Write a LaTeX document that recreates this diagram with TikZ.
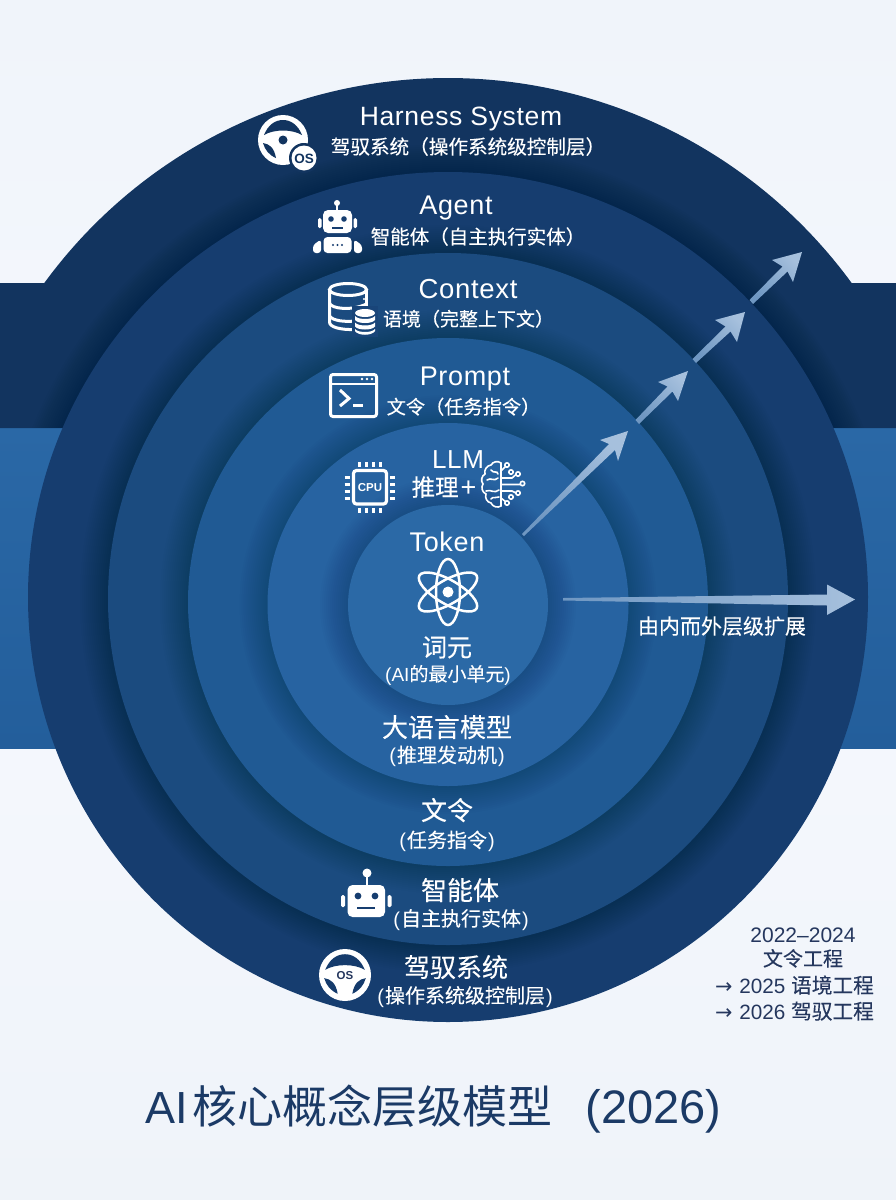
\documentclass[tikz,border=0pt]{standalone}
\usepackage{fontspec}
\setmainfont{Liberation Sans}
\newfontfamily\cjk[FakeBold=0.2]{Noto Sans CJK SC}
\newfontfamily\plaincjk{Noto Sans CJK SC}
\newfontfamily\spaced[LetterSpace=2.5]{Liberation Sans}
\newfontfamily\dv{DejaVu Sans}
\newcommand{\fsz}[1]{\fontsize{#1}{#1}\selectfont}
\definecolor{capc}{HTML}{12345F}
\definecolor{diskA}{HTML}{163D6F}
\definecolor{diskB}{HTML}{1B4B7F}
\definecolor{diskC}{HTML}{205A94}
\definecolor{diskD}{HTML}{2763A1}
\definecolor{diskE}{HTML}{2B69A6}
\definecolor{bandt}{HTML}{2A68A6}
\definecolor{bandb}{HTML}{235E9B}
\definecolor{inkc}{HTML}{25375E}
\definecolor{titlec}{HTML}{1B3A66}
\definecolor{bgt}{HTML}{F0F4FA}
\definecolor{bgm}{HTML}{F6F9FE}
\definecolor{bgb}{HTML}{EFF3F9}
\definecolor{arrowa}{HTML}{6F97C2}
\definecolor{arrowb}{HTML}{A6C0DD}
\tikzset{
  lbl/.style={text=white,inner sep=0pt,anchor=base,align=center},
  ink/.style={text=inkc,inner sep=0pt,anchor=base},
  ico/.style={draw=white,line width=3pt,fill=none},
}
% centre x, centre y, x radius, y radius, colour
\newcommand{\softdisk}[5]{%
  \foreach \i in {1,...,14}{\fill[black,opacity=.01] (#1,#2) ellipse [x radius=#3pt+2pt*\i,y radius=#4pt+2pt*\i];}
  \fill[#5] (#1,#2) ellipse [x radius=#3pt,y radius=#4pt];
}
% start1, start2, neck1, barb1, tip, barb2, neck2, shading angle
\newcommand{\taper}[8]{%
  \shade[top color=arrowb,bottom color=arrowa,shading angle=#8] #1 -- #3 -- #4 -- #5 -- #6 -- #7 -- #2 -- cycle;
}
% steering wheel: centre x, centre y, radius, hole colour
\newcommand{\wheelicon}[4]{%
  \begin{scope}[shift={(#1,#2)},x=#3pt/25,y=-#3pt/25]
  \fill[white] (0,0) circle[radius=#3pt];
  \fill[#4] (-19,-5) .. controls (-15,-15) and (-8,-20) .. (0,-20) .. controls (8,-20) and (15,-15) .. (19,-5)
     .. controls (9,-11) and (-9,-11) .. (-19,-5) -- cycle;
  \fill[#4] (-20,3) .. controls (-14,4) and (-9,7) .. (-7,18) .. controls (-14,15) and (-18,10) .. (-20,3) -- cycle;
  \fill[#4] (20,3) .. controls (14,4) and (9,7) .. (7,18) .. controls (14,15) and (18,10) .. (20,3) -- cycle;
  \end{scope}
}
\begin{document}
\begin{tikzpicture}[x=1pt,y=-1pt]
\useasboundingbox (0,0) rectangle (896,1200);
% background
\shade[top color=bgt,bottom color=bgm] (0,0) rectangle (896,600.5);
\shade[top color=bgm,bottom color=bgb] (0,600) rectangle (896,1200);
% light band
\shade[top color=bandt,bottom color=bandb] (0,428) rectangle (896,748);
% dark cap and upper band
\def\capshape{(44.3,283) arc[start angle=143.84,end angle=36.16,radius=500pt] -- (896,283) -- (896,428) -- (0,428) -- (0,283) -- cycle}
\fill[capc] \capshape;
\begin{scope}
  \clip \capshape;
  \foreach \i in {1,...,14}{\fill[black,opacity=.01] (448,597) ellipse [x radius=420pt+2pt*\i,y radius=425pt+2pt*\i];}
\end{scope}
\fill[diskA] (448,597) ellipse [x radius=420pt,y radius=425pt];
\softdisk{448}{599}{340}{346}{diskB}
\softdisk{448}{602}{260}{264}{diskC}
\softdisk{448}{604.5}{180.5}{181.5}{diskD}
\softdisk{448}{605}{100}{100}{diskE}

% arrows
\taper{(522,534)}{(524,536)}{(609,444)}{(600,440)}{(628,431)}{(618,461)}{(615,450)}{-45}
\taper{(635.5,420)}{(639,424)}{(667.5,386.5)}{(658,382)}{(688,371)}{(678,401)}{(672.5,391.5)}{-45}
\taper{(692.5,359)}{(696,363)}{(725.5,326.5)}{(715,320)}{(745,312)}{(737,342)}{(730.5,331.5)}{-45}
\taper{(749.5,300)}{(753,304)}{(782.5,266.5)}{(772,260)}{(802,252)}{(793,282)}{(787.5,271.5)}{-45}
\taper{(563,598)}{(563,600.5)}{(827,594.5)}{(827,584.5)}{(855,599.5)}{(827,615)}{(827,605.5)}{-90}

% ---- labels
\node[lbl] (harnessEn) at (461,125) {\fsz{26.5}\spaced Harness System};
\node[lbl] (harnessCn) at (468,154) {\fsz{19.6}\cjk 驾驭系统（操作系统级控制层）};
\node[lbl] (agentEn) at (456,214) {\fsz{27}\spaced Agent};
\node[lbl] (agentCn) at (478,244) {\fsz{19.5}\cjk 智能体（自主执行实体）};
\node[lbl] (contextEn) at (468,298) {\fsz{27.5}\spaced Context};
\node[lbl] (contextCn) at (468.5,326) {\fsz{19}\cjk 语境（完整上下文）};
\node[lbl] (promptEn) at (465,385) {\fsz{27}\spaced Prompt};
\node[lbl] (promptCn) at (463.5,414) {\fsz{19.2}\cjk 文令（任务指令）};
\node[lbl] (llmEn) at (458,468) {\fsz{26}\spaced LLM};
\node[lbl] (llmCn) at (444,496) {\fsz{23.5}{\cjk 推理}\hspace{2pt}\fsz{27}+};
\node[lbl] (tokenEn) at (447,551) {\fsz{27}\spaced Token};
\node[lbl] (tokenCn) at (447,656.5) {\fsz{25}\cjk 词元};
\node[lbl] (tokenSub) at (448,681) {\fsz{19}(AI{\cjk 的最小单元})};
\node[lbl] (llmBig) at (447,737) {\fsz{26}\cjk 大语言模型};
\node[lbl] (llmSub) at (447,762.5) {\fsz{20}(\hspace{1pt}{\cjk 推理发动机}\hspace{1pt})};
\node[lbl] (promptBig) at (447,820) {\fsz{26}\cjk 文令};
\node[lbl] (promptSub) at (447,847.5) {\fsz{20}(\hspace{1pt}{\cjk 任务指令}\hspace{1pt})};
\node[lbl] (agentBig) at (460,900) {\fsz{26}\cjk 智能体};
\node[lbl] (agentSub) at (461,926) {\fsz{20}(\hspace{1pt}{\cjk 自主执行实体}\hspace{1pt})};
\node[lbl] (harnessBig) at (456,977) {\fsz{26}\cjk 驾驭系统};
\node[lbl] (harnessSub) at (465,1003) {\fsz{20}(\hspace{1pt}{\cjk 操作系统级控制层}\hspace{1pt})};
\node[lbl] (expand) at (722,634) {\fsz{21}\cjk 由内而外层级扩展};
\node[ink] (year1) at (803,942) {\fsz{21}2022--2024};
\node[ink] (year2) at (803,966) {\fsz{20}\cjk 文令工程};
\node[ink,anchor=base west] (year3) at (715,993) {\fsz{20.7}{\dv →}\hspace{1pt} 2025 {\cjk 语境工程}};
\node[ink,anchor=base west] (year4) at (715,1019) {\fsz{20.7}{\dv →}\hspace{1pt} 2026 {\cjk 驾驭工程}};
\node[text=titlec,inner sep=0pt,anchor=base west] (title) at (145,1123) {\fsz{45}AI\hspace{5pt}{\plaincjk 核心概念层级模型}\hspace{33pt}\fsz{47}(2026)};

% ---- icon: steering wheel + OS (top)
\wheelicon{283}{140}{25}{capc}
\fill[capc] (283,140) circle[radius=4.5pt];
\fill[capc] (304,158) circle[radius=15pt];
\fill[white] (304,158) circle[radius=12.5pt];
\node[inner sep=0pt,text=capc] (osTop) at (304,158.5) {\fsz{13.5}\bfseries OS};

% ---- icon: robot (top)
\draw[white,line width=1.8pt] (337,203) -- (337,212);
\fill[white] (337,203) circle[radius=3pt];
\fill[white,rounded corners=5pt] (323,210) rectangle (352,233);
\fill[white,rounded corners=1.5pt] (318,218) rectangle (321.5,228);
\fill[white,rounded corners=1.5pt] (353.5,218) rectangle (357,228);
\fill[diskA] (331,219) circle[radius=2.8pt] (344,219) circle[radius=2.8pt];
\fill[diskA] (332,227.2) rectangle (343,228.8);
\fill[white,rounded corners=4pt] (323.5,237) -- (351.5,237) -- (351.5,253) -- (323.5,253) -- cycle;
\fill[white,rounded corners=3pt] (313,253) -- (313,245) -- (321,239.5) -- (321,253) -- cycle;
\fill[white,rounded corners=3pt] (362,253) -- (362,245) -- (354,239.5) -- (354,253) -- cycle;
\fill[diskA] (333,245) circle[radius=1.1pt] (337.5,245) circle[radius=1.1pt] (342,245) circle[radius=1.1pt];

% ---- icon: database
\begin{scope}[line width=3pt,white]
\draw (348,289.5) ellipse[x radius=18.5pt,y radius=6pt];
\draw (329.5,289.5) -- (329.5,322) .. controls (329.5,327) and (340,330) .. (355,329.5);
\draw (366.5,289.5) -- (366.5,308);
\draw (329.5,303) .. controls (331,309) and (352,311) .. (366.5,304);
\draw (329.5,316) .. controls (333,321) and (345,322) .. (355,321);
\end{scope}
\fill[white] (364,299) circle[radius=1.2pt];
\fill[diskB!60!diskA] (352,306) rectangle (378,337);
\fill[white] (365,313) ellipse[x radius=10pt,y radius=4pt];
\fill[white] (355,316) .. controls (358,320) and (372,320) .. (375,316) -- (375,320) .. controls (372,324) and (358,324) .. (355,320) -- cycle;
\fill[white] (355,322.5) .. controls (358,326.5) and (372,326.5) .. (375,322.5) -- (375,326.5) .. controls (372,330.5) and (358,330.5) .. (355,326.5) -- cycle;
\fill[white] (355,329) .. controls (358,333) and (372,333) .. (375,329) -- (375,331) .. controls (372,336) and (358,336) .. (355,331) -- cycle;

% ---- icon: terminal
\draw[ico,rounded corners=2.5pt] (330.5,374.5) rectangle (376.5,416.5);
\draw[white,line width=2.6pt] (330.5,384) -- (376.5,384);
\fill[white] (362,379) circle[radius=1.3pt] (367,379) circle[radius=1.3pt] (372,379) circle[radius=1.3pt];
\draw[white,line width=3pt] (340,390) -- (349,398.5) -- (340,406);
\draw[white,line width=2.6pt] (353,405.5) -- (363,405.5);

% ---- icon: CPU
\draw[white,line width=3.2pt,rounded corners=3pt] (353.5,470.5) rectangle (386.5,504);
\node[inner sep=0pt,text=white] (cpuText) at (370,487.5) {\fsz{11.5}\bfseries CPU};
\foreach \p in {359.5,366.5,373.5,380.5}{
  \draw[white,line width=2.6pt] (\p,462) -- (\p,467);
  \draw[white,line width=2.6pt] (\p,508) -- (\p,513);
}
\foreach \p in {477.5,484.5,491.5,498.5}{
  \draw[white,line width=2.6pt] (344.5,\p) -- (350,\p);
  \draw[white,line width=2.6pt] (390,\p) -- (395,\p);
}

% ---- icon: brain
\begin{scope}[white,line width=1.6pt,line cap=round]
\draw (501,463) to[bend right=50] (491,465) to[bend right=50] (485,474) to[bend right=50] (483,484)
      to[bend right=50] (486,494) to[bend right=50] (491,503) to[bend right=50] (501,506);
\draw (501,463) -- (501,506);
\draw (487,480) .. controls (491,477) and (494,482) .. (498,478);
\draw (491,470) .. controls (494,474) and (497,470) .. (498,474);
\draw (486,491) .. controls (491,489) and (494,494) .. (499,490);
\draw (491,499) .. controls (493,496) and (496,499) .. (499,497);
\draw (501,471) -- (506,466) (501,478) -- (512,478) -- (516,474.5) (501,484.5) -- (520,484.5)
      (501,491) -- (512,491) -- (516,493) (501,498) -- (506,502);
\foreach \q/\r in {507/465,511/472,518/474,522.5/483.5,518/493,511/497,507/503}{
  \draw[fill=diskD] (\q,\r) circle[radius=2.2pt];
}
\end{scope}

% ---- icon: atom
\begin{scope}[white,line width=2.5pt]
\draw[rotate around={90:(448,592)}] (448,592) ellipse[x radius=33pt,y radius=12pt];
\draw[rotate around={30:(448,592)}] (448,592) ellipse[x radius=33pt,y radius=12pt];
\draw[rotate around={-30:(448,592)}] (448,592) ellipse[x radius=33pt,y radius=12pt];
\end{scope}
\fill[white] (448,592) circle[radius=5.5pt];

% ---- icon: robot head (bottom)
\draw[white,line width=2pt] (367,873) -- (367,886);
\fill[white] (367,873) circle[radius=4.5pt];
\fill[white,rounded corners=5pt] (347.5,885) rectangle (385,917);
\fill[white,rounded corners=1.5pt] (341,895) rectangle (345,907);
\fill[white,rounded corners=1.5pt] (387.5,895) rectangle (391.5,907);
\fill[diskA] (358,896) circle[radius=3.4pt] (375,896) circle[radius=3.4pt];
\fill[diskA] (357,907) rectangle (375,909);

% ---- icon: steering wheel (bottom)
\wheelicon{345}{975}{26}{diskA!80!capc}
\node[inner sep=0pt,text=inkc] (osBottom) at (345,976) {\fsz{11.5}\bfseries OS};
\end{tikzpicture}
\end{document}
